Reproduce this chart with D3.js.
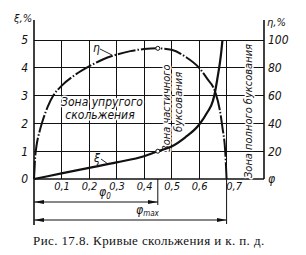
<!DOCTYPE html>
<html>
<head>
<meta charset="utf-8">
<script src="https://cdn.jsdelivr.net/npm/d3@7"></script>
<style>
  body { margin: 0; background: #fff; }
  svg { display: block; }
  .lbl { font-family: "Liberation Sans Narrow", "DejaVu Sans Condensed", sans-serif; font-style: italic; fill: #111; }
  .zone { stroke: #fff; stroke-width: 3px; paint-order: stroke; stroke-linejoin: round; }
</style>
</head>
<body>
<div id="chart-area"></div>
<script>
// curve data
var etaPhi = [0, 0.004, 0.01, 0.02, 0.03, 0.05, 0.07, 0.1, 0.15, 0.2, 0.25, 0.3, 0.35, 0.4, 0.45, 0.5, 0.55, 0.6, 0.63, 0.658, 0.675, 0.685, 0.695, 0.7];
var etaVal = [0, 15, 25, 34, 41, 52, 60, 67, 75, 81, 86, 89.5, 92, 93.5, 94, 93, 88, 80, 72, 63, 50, 37, 20, 0];

var xiPhi = [0, 0.1, 0.2, 0.3, 0.4, 0.45, 0.5, 0.55, 0.6, 0.63, 0.65, 0.658, 0.668, 0.676, 0.681, 0.685];
var xiVal = [0, 0.2, 0.4, 0.6, 0.82, 1.0, 1.17, 1.5, 1.95, 2.4, 2.8, 3.13, 3.7, 4.2, 4.6, 5.0];

var xTicks = [0.1, 0.2, 0.3, 0.4, 0.5, 0.6, 0.7];
var xLabels = ["0,1", "0,2", "0,3", "0,4", "0,5", "0,6", "0,7"];
var leftTicks = [0, 1, 2, 3, 4, 5];
var rightTicks = [20, 40, 60, 80, 100];

var phi0 = 0.45, phiMax = 0.7;

var W = 306, H = 255;
var x = d3.scaleLinear().domain([0, 0.836]).range([34, 264]);
var yL = d3.scaleLinear().domain([0, 5]).range([179, 40]);
var yR = d3.scaleLinear().domain([0, 100]).range([179, 40]);

var svg = d3.select("#chart-area").append("svg")
    .attr("width", W)
    .attr("height", H);

// grid
var grid = svg.append("g").attr("stroke", "#111").attr("stroke-width", 1)
    .attr("shape-rendering", "crispEdges");
grid.selectAll(".vg").data(xTicks).enter().append("line")
    .attr("x1", function(d){ return x(d); })
    .attr("x2", function(d){ return x(d); })
    .attr("y1", yL(5))
    .attr("y2", yL(0));
grid.selectAll(".hg").data(leftTicks.slice(1)).enter().append("line")
    .attr("x1", x(0))
    .attr("x2", x.range()[1])
    .attr("y1", function(d){ return yL(d); })
    .attr("y2", function(d){ return yL(d); });

// frame
svg.append("line").attr("x1", x(0)).attr("x2", x(0)).attr("y1", 20).attr("y2", 225)
    .attr("stroke", "#111").attr("stroke-width", 1.6);
svg.append("line").attr("x1", x.range()[1]).attr("x2", x.range()[1]).attr("y1", 20).attr("y2", yL(0))
    .attr("stroke", "#111").attr("stroke-width", 1.6);
svg.append("line").attr("x1", x(0)).attr("x2", x.range()[1]).attr("y1", yL(0)).attr("y2", yL(0))
    .attr("stroke", "#111").attr("stroke-width", 1.6);

// zone labels (white halo breaks the grid like in the print)
svg.append("text").attr("class", "lbl zone").attr("font-size", "12px")
    .attr("x", 102).attr("y", 106).attr("text-anchor", "middle")
    .text("Зона упругого");
svg.append("text").attr("class", "lbl zone").attr("font-size", "12px")
    .attr("x", 100).attr("y", 119).attr("text-anchor", "middle")
    .text("скольжения");

var zp = svg.append("g").attr("transform", "translate(170,108) rotate(-90)");
zp.append("text").attr("class", "lbl zone").attr("font-size", "11px")
    .attr("text-anchor", "middle").attr("x", 0).attr("y", 0).text("Зона частичного");
zp.append("text").attr("class", "lbl zone").attr("font-size", "11px")
    .attr("text-anchor", "middle").attr("x", 6).attr("y", 12).text("буксования");

svg.append("text").attr("class", "lbl zone").attr("font-size", "11px")
    .attr("text-anchor", "middle")
    .attr("transform", "translate(252,111) rotate(-90)")
    .text("Зона полного буксования");

// curves
var etaData = etaPhi.map(function(p, i){ return [p, etaVal[i]]; });
var xiData = xiPhi.map(function(p, i){ return [p, xiVal[i]]; });

svg.append("path").datum(etaData)
    .attr("fill", "none").attr("stroke", "#111").attr("stroke-width", 2)
    .attr("stroke-dasharray", "18,2,1.5,2")
    .attr("d", d3.line().curve(d3.curveMonotoneX)
        .x(function(d){ return x(d[0]); })
        .y(function(d){ return yR(d[1]); }));

svg.append("path").datum(xiData)
    .attr("fill", "none").attr("stroke", "#111").attr("stroke-width", 2.2)
    .attr("d", d3.line().curve(d3.curveMonotoneX)
        .x(function(d){ return x(d[0]); })
        .y(function(d){ return yL(d[1]); }));

// points at phi0
svg.append("circle").attr("cx", x(phi0)).attr("cy", yR(94)).attr("r", 2)
    .attr("fill", "#fff").attr("stroke", "#111").attr("stroke-width", 1);
svg.append("circle").attr("cx", x(phi0)).attr("cy", yL(1.0)).attr("r", 2)
    .attr("fill", "#fff").attr("stroke", "#111").attr("stroke-width", 1);

// curve names with leaders
svg.append("text").attr("class", "lbl").attr("font-size", "12px").attr("x", 93).attr("y", 52).text("η");
svg.append("line").attr("x1", 100).attr("y1", 49).attr("x2", 112).attr("y2", 55)
    .attr("stroke", "#111").attr("stroke-width", 0.9);
svg.append("text").attr("class", "lbl").attr("font-size", "12px").attr("x", 94).attr("y", 162).text("ξ");
svg.append("line").attr("x1", 101).attr("y1", 159).attr("x2", 108).attr("y2", 164)
    .attr("stroke", "#111").attr("stroke-width", 0.9);

// axes labels via d3 axes
var xAxis = d3.axisBottom(x).tickValues(xTicks).tickSize(0).tickPadding(3)
    .tickFormat(function(d, i){ return xLabels[i]; });
var gx = svg.append("g").attr("transform", "translate(0," + yL(0) + ")").call(xAxis);
gx.select(".domain").remove();
gx.selectAll("text").attr("class", "lbl").attr("font-size", "11px").attr("fill", "#111")
    .attr("dx", function(d){ return d === 0.7 ? "7px" : "0"; });

var yAxisL = d3.axisLeft(yL).tickValues(leftTicks).tickSize(0).tickPadding(6)
    .tickFormat(function(d){ return d; });
var gl = svg.append("g").attr("transform", "translate(" + x(0) + ",0)").call(yAxisL);
gl.select(".domain").remove();
gl.selectAll("text").attr("class", "lbl").attr("font-size", "12px").attr("fill", "#111");

var yAxisR = d3.axisRight(yR).tickValues(rightTicks).tickSize(0).tickPadding(4);
var gr = svg.append("g").attr("transform", "translate(" + x.range()[1] + ",0)").call(yAxisR);
gr.select(".domain").remove();
gr.selectAll("text").attr("class", "lbl").attr("font-size", "12px").attr("fill", "#111");

svg.append("text").attr("class", "lbl").attr("font-size", "12px")
    .attr("x", 268).attr("y", 183).text("φ");
svg.append("text").attr("class", "lbl").attr("font-size", "11px")
    .attr("x", 14).attr("y", 22).text("ξ,%");
svg.append("text").attr("class", "lbl").attr("font-size", "11px")
    .attr("x", 267).attr("y", 26).text("η,%");

// dimension lines phi0 and phi_max
var dim = svg.append("g").attr("stroke", "#111").attr("stroke-width", 1);
dim.append("line").attr("x1", x(phi0)).attr("x2", x(phi0)).attr("y1", yL(0)).attr("y2", 205);
dim.append("line").attr("x1", x(phiMax)).attr("x2", x(phiMax)).attr("y1", yL(0)).attr("y2", 224);

var defs = svg.append("defs");
defs.append("marker").attr("id", "arr").attr("viewBox", "0 0 10 4")
    .attr("refX", 10).attr("refY", 2).attr("markerWidth", 10).attr("markerHeight", 4)
    .attr("markerUnits", "userSpaceOnUse").attr("orient", "auto-start-reverse")
    .append("path").attr("d", "M0,0 L10,2 L0,4 Z").attr("fill", "#111");

dim.append("line").attr("x1", x(0)).attr("x2", x(phi0)).attr("y1", 202).attr("y2", 202)
    .attr("marker-start", "url(#arr)").attr("marker-end", "url(#arr)");
dim.append("line").attr("x1", x(0)).attr("x2", x(phiMax)).attr("y1", 220).attr("y2", 220)
    .attr("marker-start", "url(#arr)").attr("marker-end", "url(#arr)");

var p0 = svg.append("text").attr("class", "lbl").attr("font-size", "12px").attr("x", 99).attr("y", 196);
p0.append("tspan").text("φ");
p0.append("tspan").attr("font-size", "8px").attr("dy", 3).text("0");
var pm = svg.append("text").attr("class", "lbl").attr("font-size", "12px").attr("x", 136).attr("y", 214);
pm.append("tspan").text("φ");
pm.append("tspan").attr("font-size", "8px").attr("dy", 2).text("max");

// caption
svg.append("text").attr("x", 33).attr("y", 245)
    .attr("font-family", "Liberation Serif, serif").attr("font-size", "13px").attr("fill", "#111")
    .attr("letter-spacing", "0.4px")
    .text("Рис. 17.8. Кривые скольжения и к. п. д.");
</script>
</body>
</html>
